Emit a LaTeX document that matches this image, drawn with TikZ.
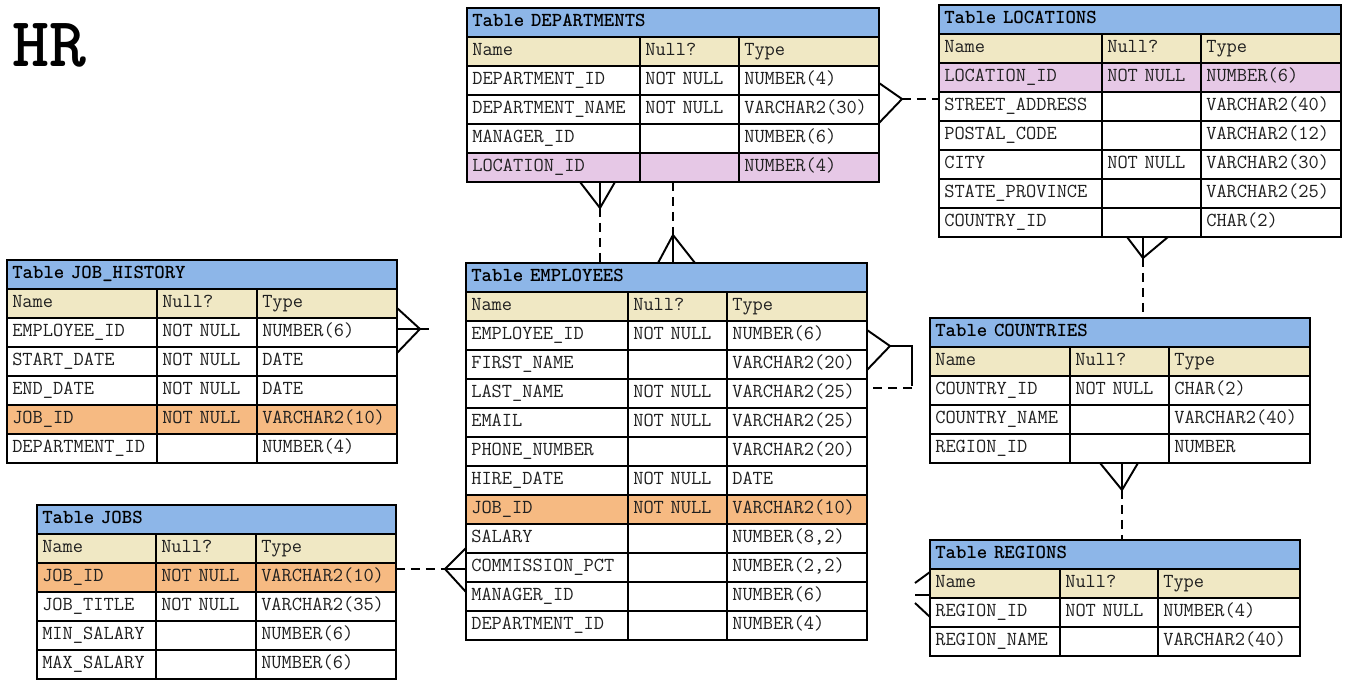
\documentclass[tikz,border=0pt]{standalone}
\usepackage{fontspec}
\usetikzlibrary{positioning,calc}

\definecolor{titleblue}{RGB}{141,182,232}
\definecolor{headtan}{RGB}{240,232,196}
\definecolor{lockeypink}{RGB}{230,200,230}
\definecolor{jobkeyorange}{RGB}{246,186,130}

% one table: name, top left corner, column widths (px), title, rows
\newcommand{\ertable}[7]{%
  \node[titlebar, cellw={#3+#4+#5}] (#1) at (#2) {Table #6};
  \foreach \fname/\fnull/\ftype/\fsty [count=\ci] in {Name/Null?/Type/hdr, #7} {
    \node[cell, \fsty, cellw=#3] (#1-\ci-1) at ($(#1.south west)+(0,{29*(\ci-1)})$) {\fname};
    \node[cell, \fsty, cellw=#4] (#1-\ci-2) at (#1-\ci-1.north east) {\fnull};
    \node[cell, \fsty, cellw=#5] (#1-\ci-3) at (#1-\ci-2.north east) {\ftype};
  }
}

\begin{document}
\begin{tikzpicture}[
    x=0.02cm, y=-0.02cm,
    cell/.style={draw, line width=1.3pt, anchor=north west, outer sep=0pt,
      inner xsep=3pt, inner ysep=0pt, minimum height=0.58cm,
      text height=7pt, text depth=2pt, align=left, text=black!88,
      font=\ttfamily\fontsize{11.3}{13}\selectfont},
    cellw/.style={minimum width={(#1)*0.02cm}, text width={(#1)*0.02cm-6pt}},
    titlebar/.style={cell, fill=titleblue, text=black,
      font=\ttfamily\bfseries\fontsize{11.3}{13}\selectfont},
    hdr/.style={fill=headtan},
    plainrow/.style={fill=white},
    lockey/.style={fill=lockeypink},
    jobkey/.style={fill=jobkeyorange},
    relline/.style={line width=1.1pt},
    optline/.style={relline, dash pattern=on 5pt off 3.5pt}
]
\useasboundingbox (0,0) rectangle (1346,682);

\node[font=\ttfamily\bfseries\fontsize{40}{44}\selectfont, anchor=base west, inner sep=0pt] (hr) at (12,67) {HR};

% tables
\ertable{dep}{467,8}{173}{99}{140}{DEPARTMENTS}{
  DEPARTMENT\_ID/NOT~NULL/NUMBER(4)/plainrow,
  DEPARTMENT\_NAME/NOT~NULL/VARCHAR2(30)/plainrow,
  MANAGER\_ID//NUMBER(6)/plainrow,
  LOCATION\_ID//NUMBER(4)/lockey}
\ertable{loc}{939,5}{163}{99}{140}{LOCATIONS}{
  LOCATION\_ID/NOT~NULL/NUMBER(6)/lockey,
  STREET\_ADDRESS//VARCHAR2(40)/plainrow,
  POSTAL\_CODE//VARCHAR2(12)/plainrow,
  CITY/NOT~NULL/VARCHAR2(30)/plainrow,
  STATE\_PROVINCE//VARCHAR2(25)/plainrow,
  COUNTRY\_ID//CHAR(2)/plainrow}
\ertable{jh}{7,260}{150}{100}{140}{JOB\_HISTORY}{
  EMPLOYEE\_ID/NOT~NULL/NUMBER(6)/plainrow,
  START\_DATE/NOT~NULL/DATE/plainrow,
  END\_DATE/NOT~NULL/DATE/plainrow,
  JOB\_ID/NOT~NULL/VARCHAR2(10)/jobkey,
  DEPARTMENT\_ID//NUMBER(4)/plainrow}
\ertable{jobs}{37,505}{119}{100}{140}{JOBS}{
  JOB\_ID/NOT~NULL/VARCHAR2(10)/jobkey,
  JOB\_TITLE/NOT~NULL/VARCHAR2(35)/plainrow,
  MIN\_SALARY//NUMBER(6)/plainrow,
  MAX\_SALARY//NUMBER(6)/plainrow}
\ertable{emp}{466,263}{162}{99}{140}{EMPLOYEES}{
  EMPLOYEE\_ID/NOT~NULL/NUMBER(6)/plainrow,
  FIRST\_NAME//VARCHAR2(20)/plainrow,
  LAST\_NAME/NOT~NULL/VARCHAR2(25)/plainrow,
  EMAIL/NOT~NULL/VARCHAR2(25)/plainrow,
  PHONE\_NUMBER//VARCHAR2(20)/plainrow,
  HIRE\_DATE/NOT~NULL/DATE/plainrow,
  JOB\_ID/NOT~NULL/VARCHAR2(10)/jobkey,
  SALARY//{NUMBER(8,2)}/plainrow,
  COMMISSION\_PCT//{NUMBER(2,2)}/plainrow,
  MANAGER\_ID//NUMBER(6)/plainrow,
  DEPARTMENT\_ID//NUMBER(4)/plainrow}
\ertable{ctry}{930,318}{140}{99}{141}{COUNTRIES}{
  COUNTRY\_ID/NOT~NULL/CHAR(2)/plainrow,
  COUNTRY\_NAME//VARCHAR2(40)/plainrow,
  REGION\_ID//NUMBER/plainrow}
\ertable{reg}{930,540}{130}{98}{142}{REGIONS}{
  REGION\_ID/NOT~NULL/NUMBER(4)/plainrow,
  REGION\_NAME//VARCHAR2(40)/plainrow}

% departments - locations
\coordinate (deploc) at (902,99);
\draw[relline] (dep.east |- 0,83) -- (deploc) -- (dep.east |- 0,123);
\draw[optline] (deploc) -- (loc.west |- deploc);

% job_history - employees
\coordinate (jhemp) at (420,329);
\coordinate (jhend) at (429,329);
\draw[relline] (jh.east |- 0,308) -- (jhemp) -- (jh.east |- 0,353);
\draw[relline] (jh.east |- jhemp) -- (jhend);

% jobs - employees
\coordinate (jobemp) at (445,569);
\draw[relline] (emp.west |- 0,548) -- (jobemp) -- (emp.west |- 0,592);
\draw[relline] (emp.west |- jobemp) -- (jobemp);
\draw[optline] (jobs.east |- jobemp) -- (jobemp);

% employees - manager
\coordinate (mgr) at (890,346);
\coordinate (mgrturn) at (912,346);
\draw[relline] (emp.east |- 0,330) -- (mgr) -- (emp.east |- 0,370);
\draw[relline] (mgr) -- (mgrturn) -- (mgrturn |- 0,386);
\draw[optline] (mgrturn |- 0,388) -- (emp.east |- 0,388);

% departments - employees
\coordinate (depemp) at (600,208);
\draw[relline] (dep-5-1.south -| 580,0) -- (depemp) -- (dep-5-1.south -| 615,0);
\draw[relline] (depemp) -- (depemp |- dep-5-1.south);
\draw[optline] (depemp) -- (depemp |- emp.north);
\coordinate (empdep) at (673,235);
\draw[relline] (emp.north -| 658,0) -- (empdep) -- (emp.north -| 695,0);
\draw[relline] (empdep) -- (empdep |- emp.north);
\draw[optline] (empdep |- dep-5-1.south) -- (empdep);

% locations - countries
\coordinate (locctry) at (1143,258);
\draw[relline] (loc-7-1.south -| 1127,0) -- (locctry) -- (loc-7-1.south -| 1168,0);
\draw[relline] (locctry) -- (locctry |- loc-7-1.south);
\draw[optline] (locctry) -- (locctry |- ctry.north);

% countries - regions
\coordinate (ctryreg) at (1122,490);
\draw[relline] (ctry-4-1.south -| 1100,0) -- (ctryreg) -- (ctry-4-1.south -| 1138,0);
\draw[relline] (ctryreg) -- (ctryreg |- ctry-4-1.south);
\draw[optline] (ctryreg) -- (ctryreg |- reg.north);

% regions, cut foot
\coordinate (regcut) at (915,595);
\draw[relline] (reg.west |- 0,572) -- ($(regcut)+(0,-12)$);
\draw[relline] (reg.west |- regcut) -- (regcut);
\draw[relline] (reg.west |- 0,617) -- ($(regcut)+(0,8)$);
\end{tikzpicture}
\end{document}
